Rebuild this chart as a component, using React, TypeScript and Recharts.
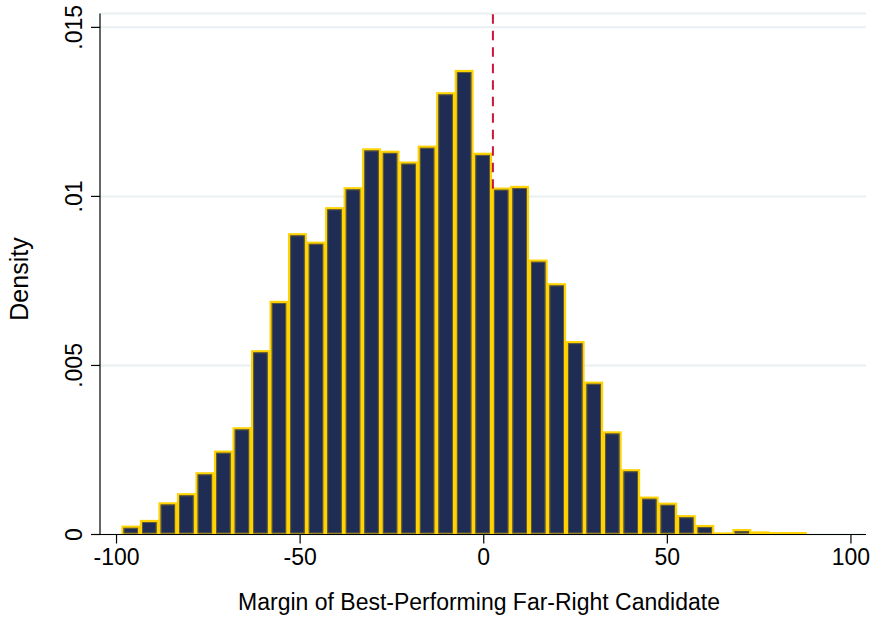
// Histogram: margin of the best-performing far-right candidate (density).
import { Bar, CartesianGrid, ComposedChart, ReferenceLine, XAxis, YAxis } from 'recharts';

// Bin midpoints (bin width ~5.04) and density of each bin.
const binMids = [
  -96.13, -91.09, -86.04, -81.0, -75.96, -70.92, -65.87, -60.83, -55.79, -50.75,
  -45.7, -40.66, -35.62, -30.58, -25.53, -20.49, -15.45, -10.41, -5.36, -0.32,
  4.72, 9.76, 14.81, 19.85, 24.89, 29.93, 34.98, 40.02, 45.06, 50.1,
  55.15, 60.19, 65.23, 70.27, 75.32, 80.36, 85.4,
];
const density = [
  0.00023, 0.0004, 0.00092, 0.00119, 0.00181, 0.00245, 0.00314, 0.00542, 0.00688, 0.00888,
  0.00863, 0.00965, 0.01024, 0.01139, 0.01132, 0.011, 0.01147, 0.01305, 0.01371, 0.01126,
  0.01023, 0.01028, 0.0081, 0.0074, 0.00569, 0.00449, 0.00302, 0.0019, 0.00109, 0.00091,
  0.00054, 0.00025, 0.00003, 0.00013, 0.00006, 0.00004, 0.00004,
];
const xTicks = [-100, -50, 0, 50, 100];
const yTicks = [0, 0.005, 0.01, 0.015];
const cutoff = 2.5;
const cutoffFrom = 0.01023;

const data = binMids.map((x, i) => ({ x, d: density[i] }));

const C = {
  navy: '#1F2D54',
  gold: '#FFD200',
  goldDark: '#6E6436',
  red: '#CC1638',
  grid: '#E9F0F2',
  ink: '#000000',
};
const FONT = "'Liberation Sans', Arial, sans-serif";
const FS = 23;

const X_MIN = -104.5;
const X_MAX = 104.1;
const Y_MAX = 0.01541;

const yFmt = (v: number) => (v === 0 ? '0' : String(v).replace(/^0/, ''));

function XTick({ x, y, payload }: any) {
  return (
    <text x={x} y={y} dy="0.71em" textAnchor="middle" fontSize={FS} fontFamily={FONT} fill={C.ink}>
      {payload.value}
    </text>
  );
}

function YTick({ x, y, payload }: any) {
  return (
    <text
      x={x}
      y={y}
      transform={`rotate(-90, ${x}, ${y})`}
      textAnchor="middle"
      fontSize={FS}
      fontFamily={FONT}
      fill={C.ink}
    >
      {yFmt(payload.value)}
    </text>
  );
}

// x title, centred under the plot area
function XTitle({ viewBox }: any) {
  const cx = viewBox.x + viewBox.width / 2 - 4;
  return (
    <text x={cx} y={610} textAnchor="middle" fontSize={FS} fontFamily={FONT} fill={C.ink}>
      Margin of Best-Performing Far-Right Candidate
    </text>
  );
}

function YTitle({ viewBox }: any) {
  const cy = viewBox.y + viewBox.height / 2 + 5;
  const bx = 27.5;
  return (
    <text
      x={bx}
      y={cy}
      transform={`rotate(-90, ${bx}, ${cy})`}
      textAnchor="middle"
      fontSize={25}
      fontFamily={FONT}
      fill={C.ink}
    >
      Density
    </text>
  );
}

function HistBar({ x, y, width, height }: any) {
  if (!(height > 0)) return null;
  return (
    <g>
      <rect x={x} y={y} width={width} height={height} fill={C.navy} stroke={C.gold} strokeWidth={2.2} />
      <rect
        x={x + 1.6}
        y={y + 1.6}
        width={Math.max(width - 3.2, 0)}
        height={Math.max(height - 3.2, 0)}
        fill="none"
        stroke={C.goldDark}
        strokeWidth={0.8}
      />
    </g>
  );
}

export default function App() {
  const plotW = 873 - 100 - 7;
  const barW = (plotW * 5.043) / (X_MAX - X_MIN);

  return (
    <div style={{ position: 'absolute', left: 0, top: 0, width: 873, height: 623, background: '#fff' }}>
      <ComposedChart
        width={873}
        height={623}
        data={data}
        margin={{ top: 13.5, right: 7, left: 0, bottom: 0 }}
      >
        <CartesianGrid vertical={false} stroke={C.grid} strokeWidth={2} />
        <XAxis
          type="number"
          dataKey="x"
          domain={[X_MIN, X_MAX]}
          ticks={xTicks}
          allowDataOverflow
          height={88.5}
          tickSize={9}
          tickMargin={5}
          stroke={C.ink}
          strokeWidth={1.2}
          tick={<XTick />}
          label={{ content: <XTitle /> }}
        />
        <YAxis
          type="number"
          domain={[0, Y_MAX]}
          ticks={yTicks}
          allowDataOverflow
          width={100}
          tickSize={9}
          tickMargin={9}
          stroke={C.ink}
          strokeWidth={1.2}
          tick={<YTick />}
          label={{ content: <YTitle /> }}
        />
        <ReferenceLine
          segment={[
            { x: cutoff, y: cutoffFrom },
            { x: cutoff, y: Y_MAX },
          ]}
          stroke={C.red}
          strokeWidth={2}
          strokeDasharray="9.5 7"
          ifOverflow="visible"
        />
        <Bar dataKey="d" barSize={barW} shape={<HistBar />} isAnimationActive={false} />
      </ComposedChart>
    </div>
  );
}
